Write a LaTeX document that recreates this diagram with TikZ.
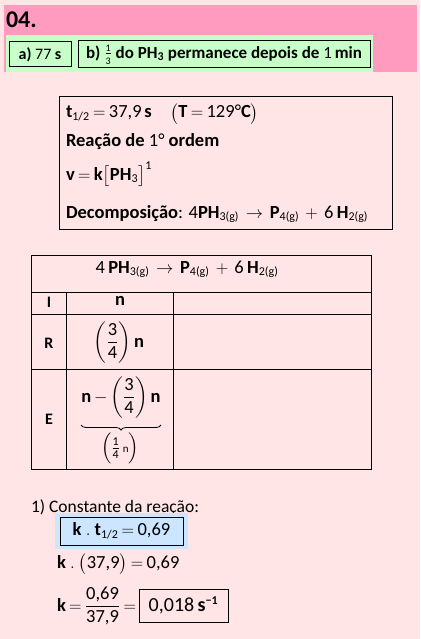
\documentclass[tikz,border=0pt]{standalone}
\usepackage{amsmath}
\usepackage{fontspec}
\setmainfont{Carlito}
\usetikzlibrary{decorations.pathreplacing}
\definecolor{bgpink}{HTML}{FFE5E5}
\definecolor{bandpink}{HTML}{FF9BBE}
\definecolor{bandgreen}{HTML}{C8FFC8}
\definecolor{boxblue}{HTML}{CDE6FF}
\newcommand\sm[1]{\mbox{\fontsize{12}{12}\selectfont #1}}
\newcommand\T[1]{\mbox{#1}}
\newcommand\B[1]{\mbox{\bfseries #1}}
\thickmuskip=3.5mu plus 2mu
\medmuskip=3mu plus 1mu
\begin{document}
\begin{tikzpicture}[x=1pt,y=-1pt,
  every node/.style={inner sep=0pt,outer sep=0pt},
  txt/.style={font=\fontsize{18.5}{22}\selectfont},
  lbl/.style={font=\bfseries\fontsize{16}{19}\selectfont},
  frame/.style={draw=black,line width=1pt},
  grid/.style={draw=black,line width=1pt}]
\fill[bgpink] (0,0) rectangle (420,639);
\useasboundingbox (0,0) rectangle (420,639);
% header band
\fill[bandpink] (4,5) rectangle (417,72);
\fill[bandgreen] (6,35) rectangle (373,72);
\node[anchor=base west,font=\bfseries\fontsize{24}{28}\selectfont] (title) at (6,28) {04.};
\node[frame,font=\fontsize{16}{19}\selectfont,minimum width=62pt,minimum height=25pt] (boxa) at (40,54.5) {\textbf{a)} 77 \textbf{s}};
\node[frame,font=\fontsize{17}{20}\selectfont,minimum width=292pt,minimum height=27pt] (boxb) at (224,54.5)
  {\textbf{b)} $\frac{\mbox{\fontsize{10}{10}\selectfont 1}}{\mbox{\fontsize{10}{10}\selectfont 3}}$ \textbf{do PH\textsubscript{3} permanece depois de} 1\,\textbf{min}};
% data box
\node[frame,minimum width=333pt,minimum height=132pt] (data) at (225.5,163) {};
\node[txt,anchor=base west] (l1) at (66,118)
  {$\B{t}_{\sm{1/2}} = \T{37,9}\,\B{s}\quad\bigl(\B{T} = \T{129°}\B{C}\bigr)$};
\node[txt,anchor=base west] (l2) at (66,147) {\textbf{Reação de} 1° \textbf{ordem}};
\node[txt,anchor=base west] (l3) at (66,180)
  {$\B{v} = \B{k}\bigl[\B{PH}_{\sm{3}}\bigr]^{\sm{1}}$};
\node[txt,anchor=base west] (l4) at (66,218)
  {\textbf{Decomposição}: $\T{4}\B{PH}_{\sm{3(g)}} \;\rightarrow\; \B{P}_{\sm{4(g)}} \;+\; \T{6}\;\B{H}_{\sm{2(g)}}$};
% table
\draw[grid] (31,255) rectangle (371,469);
\draw[grid] (31,292) -- (371,292);
\draw[grid] (31,314) -- (371,314);
\draw[grid] (31,369) -- (371,369);
\draw[grid] (66,292) -- (66,469);
\draw[grid] (173,292) -- (173,469);
\node[txt,anchor=base] (thead) at (187,273)
  {$\T{4}\;\B{PH}_{\sm{3(g)}} \;\rightarrow\; \B{P}_{\sm{4(g)}} \;+\; \T{6}\;\B{H}_{\sm{2(g)}}$};
\node[lbl] (rI) at (49,302) {I};
\node[txt,font=\bfseries\fontsize{18.5}{22}\selectfont] (cn) at (120,301) {n};
\node[lbl] (rR) at (49,343) {R};
\node[txt] (cR) at (119,343)
  {$\displaystyle\left(\vrule height 25pt depth 17pt width 0pt\frac{\T{3}}{\T{4}}\right)\B{n}$};
\node[lbl] (rE) at (49,419) {E};
\node[txt] (eE) at (121,398)
  {$\displaystyle\B{n}-\left(\vrule height 25pt depth 17pt width 0pt\frac{\T{3}}{\T{4}}\right)\B{n}$};
\coordinate (braceR) at (161,425);
\coordinate (braceL) at (81,425);
\draw[decorate,decoration={brace,amplitude=5pt},line width=0.8pt] (braceR) -- (braceL);
\node[txt] (lE) at (120,448)
  {$\left(\vrule height 15pt depth 11pt width 0pt\frac{\sm{1}}{\sm{4}}\,\mbox{\fontsize{11}{11}\selectfont n}\right)$};
% bottom
\node[anchor=base west,font=\fontsize{17.5}{21}\selectfont] (s1) at (31,512) {1) Constante da reação:};
\fill[boxblue] (55,513) rectangle (188,549);
\node[frame,txt,minimum width=123pt,minimum height=28pt] (kbox) at (121.5,531)
  {$\B{k}\ .\ \B{t}_{\sm{1/2}} = \T{0,69}$};
\node[txt,anchor=base west] (s2) at (57,568) {$\B{k}\ .\ \bigl(\T{37,9}\bigr) = \T{0,69}$};
\node[txt,anchor=base west] (s3) at (57,611)
  {$\B{k} = \dfrac{\T{0,69}}{\T{37,9}} =$};
\node[frame,font=\fontsize{20}{24}\selectfont,minimum width=89pt,minimum height=33pt] (ans) at (183.5,605.5)
  {$\T{0,018}\,\B{s}^{\sm{\bfseries −1}}$};
\end{tikzpicture}
\end{document}
